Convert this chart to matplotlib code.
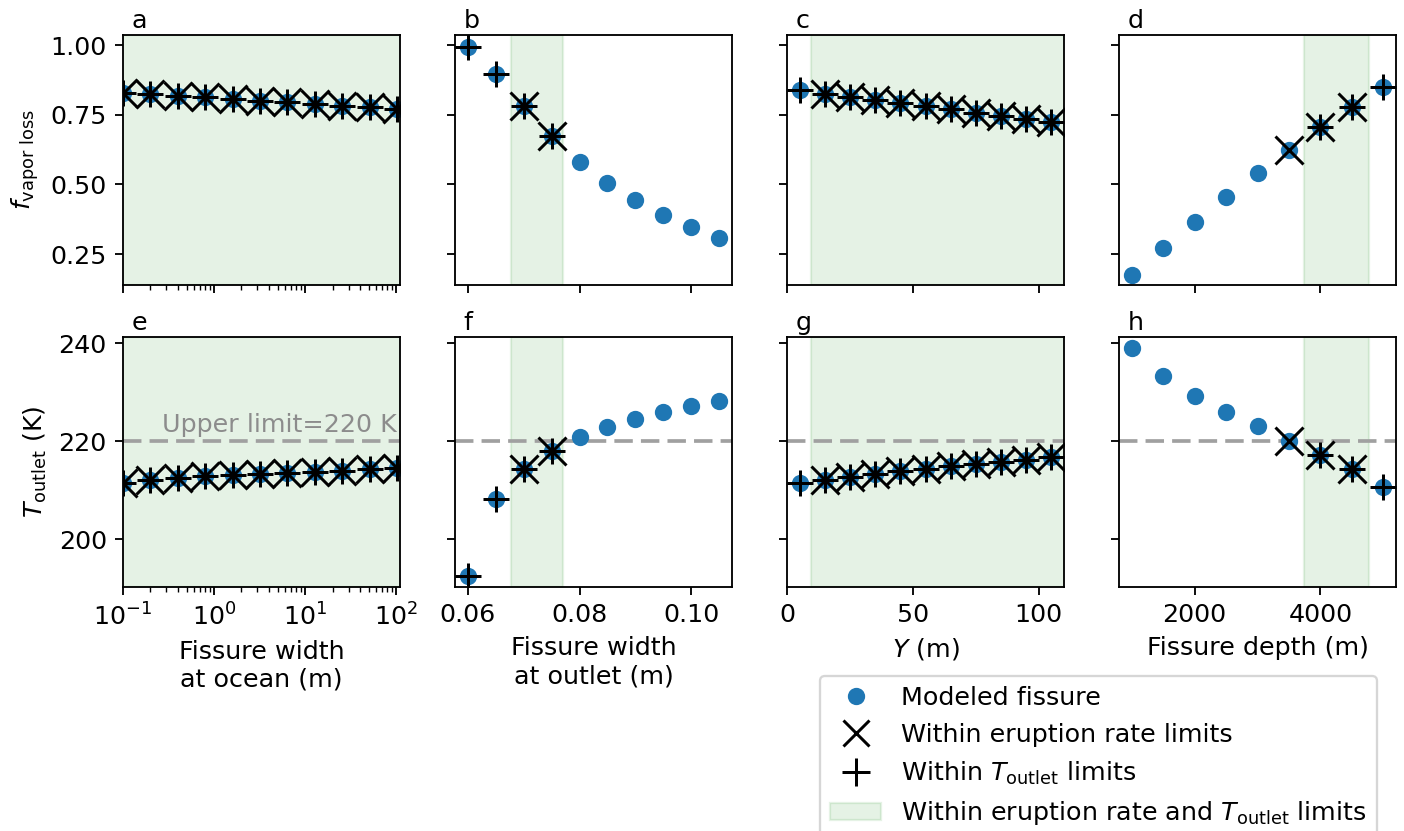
import matplotlib
matplotlib.use("Agg")
import matplotlib.pyplot as plt
from matplotlib.lines import Line2D
from matplotlib.patches import Patch
import numpy as np

# ---- data ----
# column 1: fissure width at ocean (log x)
w_ocean = [0.1, 0.2, 0.4, 0.8, 1.6, 3.2, 6.4, 12.8, 25.6, 51.2, 102.4]
f_ocean = [0.829, 0.823, 0.818, 0.812, 0.806, 0.800, 0.795, 0.789, 0.783, 0.777, 0.771]
T_ocean = [211.6, 212.2, 212.5, 212.9, 213.1, 213.3, 213.6, 213.8, 214.0, 214.3, 214.6]
erupt_ocean = [1] * 11
tlim_ocean = [1] * 11

# column 2: fissure width at outlet
w_outlet = [0.060, 0.065, 0.070, 0.075, 0.080, 0.085, 0.090, 0.095, 0.100, 0.105]
f_outlet = [0.994, 0.896, 0.781, 0.674, 0.581, 0.506, 0.444, 0.390, 0.346, 0.309]
T_outlet = [192.6, 208.2, 214.4, 218.1, 220.8, 222.9, 224.6, 225.9, 227.3, 228.3]
erupt_outlet = [0, 0, 1, 1, 0, 0, 0, 0, 0, 0]
tlim_outlet = [1, 1, 1, 1, 0, 0, 0, 0, 0, 0]

# column 3: Y
y_vals = [5, 15, 25, 35, 45, 55, 65, 75, 85, 95, 105]
f_y = [0.839, 0.824, 0.815, 0.804, 0.791, 0.781, 0.769, 0.757, 0.746, 0.736, 0.724]
T_y = [211.6, 212.2, 212.7, 213.3, 213.9, 214.4, 214.9, 215.4, 215.9, 216.3, 216.8]
erupt_y = [0, 1, 1, 1, 1, 1, 1, 1, 1, 1, 1]
tlim_y = [1] * 11

# column 4: fissure depth
depth = [1000, 1500, 2000, 2500, 3000, 3500, 4000, 4500, 5000]
f_depth = [0.175, 0.271, 0.364, 0.456, 0.540, 0.623, 0.705, 0.779, 0.848]
T_depth = [239.1, 233.3, 229.2, 225.9, 223.1, 220.0, 217.3, 214.4, 210.8]
erupt_depth = [0, 0, 0, 0, 0, 1, 1, 1, 0]
tlim_depth = [0, 0, 0, 0, 0, 0, 1, 1, 1]

# ranges within both limits (shaded)
span_lo = [0.05, 0.0678, 9.5, 3745]
span_hi = [500, 0.0770, 200, 4775]

T_upper = 220

xlabels = ["Fissure width\nat ocean (m)", "Fissure width\nat outlet (m)", "$Y$ (m)", "Fissure depth (m)"]
xlims = [(0.1, 110), (0.05775, 0.10725), (0, 110), (800, 5200)]
xticks = [None, [0.06, 0.08, 0.10], [0, 50, 100], [2000, 4000]]
panel_letters = ["abcd", "efgh"]

columns = [
    (w_ocean, f_ocean, T_ocean, erupt_ocean, tlim_ocean),
    (w_outlet, f_outlet, T_outlet, erupt_outlet, tlim_outlet),
    (y_vals, f_y, T_y, erupt_y, tlim_y),
    (depth, f_depth, T_depth, erupt_depth, tlim_depth),
]

plt.rcParams["font.size"] = 11
DPI = 166
fig, axes = plt.subplots(2, 4, figsize=(1404 / DPI, 831 / DPI), dpi=DPI, sharex="col", sharey="row")
fig.subplots_adjust(left=123 / 1404, right=1396 / 1404, top=1 - 35 / 831, bottom=1 - 587 / 831,
                    wspace=0.199, hspace=0.208)

blue = "#1f77b4"
for j, (x, f, T, er, tl) in enumerate(columns):
    x = np.array(x)
    er = np.array(er, dtype=bool)
    tl = np.array(tl, dtype=bool)
    for i, yv in enumerate([f, T]):
        ax = axes[i, j]
        yv = np.array(yv)
        ax.axvspan(span_lo[j], span_hi[j], color="green", alpha=0.1, zorder=0)
        ax.plot(x, yv, "o", color=blue, ms=6.5, zorder=2)
        ax.plot(x[er], yv[er], "x", color="black", ms=12, mew=1.3, zorder=3)
        ax.plot(x[tl], yv[tl], "+", color="black", ms=11.5, mew=1.3, zorder=3)
        if i == 1:
            ax.axhline(T_upper, color="#a0a0a0", ls=(0, (5, 2.2)), lw=1.6, zorder=1)
        ax.text(0.03, 1.028, panel_letters[i][j], transform=ax.transAxes, va="baseline", ha="left")
    if j == 0:
        axes[0, j].set_xscale("log")
    axes[0, j].set_xlim(*xlims[j])
    if xticks[j] is not None:
        axes[0, j].set_xticks(xticks[j])
    axes[1, j].set_xlabel(xlabels[j])

axes[0, 0].set_ylim(0.139, 1.036)
axes[0, 0].set_yticks([0.25, 0.50, 0.75, 1.00])
axes[1, 0].set_ylim(190.3, 241.3)
axes[1, 0].set_yticks([200, 220, 240])
axes[0, 0].set_ylabel(r"$f_\mathrm{vapor\ loss}$")
axes[1, 0].set_ylabel(r"$T_\mathrm{outlet}$ (K)")

axes[1, 0].text(0.99, T_upper + 0.8, "Upper limit=220 K", transform=axes[1, 0].get_yaxis_transform(),
                ha="right", va="bottom", color="#8c8c8c")

handles = [
    Line2D([], [], ls="none", marker="o", color=blue, ms=6.5),
    Line2D([], [], ls="none", marker="x", color="black", ms=11, mew=1.3),
    Line2D([], [], ls="none", marker="+", color="black", ms=12, mew=1.3),
    Patch(facecolor="green", edgecolor="green", alpha=0.1),
]
labels = ["Modeled fissure", "Within eruption rate limits", r"Within $T_\mathrm{outlet}$ limits",
          r"Within eruption rate and $T_\mathrm{outlet}$ limits"]
fig.legend(handles, labels, loc="upper left", bbox_to_anchor=(820 / 1404, 1 - 676 / 831),
           borderaxespad=0)

fig.savefig("out.png", dpi=DPI)
